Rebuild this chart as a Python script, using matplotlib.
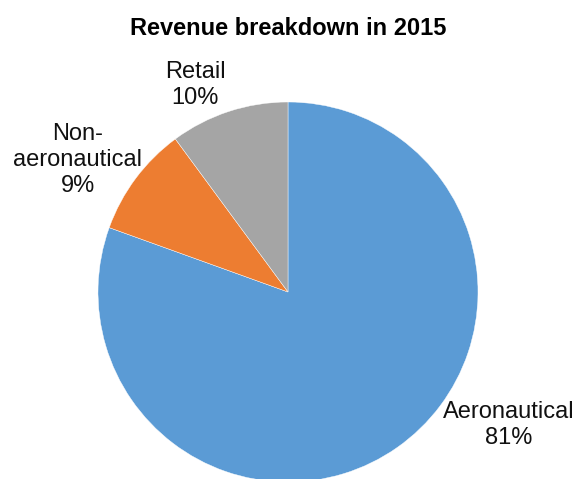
import matplotlib.pyplot as plt

labels = ["Aeronautical", "Non-\naeronautical", "Retail"]
shares = [80.5, 9.4, 10.1]
pct_labels = ["81%", "9%", "10%"]
colors = ["#5B9BD5", "#ED7D31", "#A5A5A5"]

plt.rcParams['font.family'] = ['Liberation Sans', 'DejaVu Sans']

fig = plt.figure(figsize=(5.77, 4.79), dpi=100)
ax = fig.add_axes([0, 0, 1, 1])

# pie centre / radius in pixel units of the canvas
ax.pie(shares, colors=colors, startangle=90, counterclock=False,
       center=(288, 187), radius=190, frame=True,
       wedgeprops=dict(linewidth=0.3, edgecolor='white'))
ax.set_xlim(0, 577)
ax.set_ylim(0, 479)
ax.set_aspect('equal')
ax.axis('off')

# data labels, placed where the original puts them
label_pos = [(509, 54), (78, 319), (195, 394)]
for lab, pct, (x, y) in zip(labels, pct_labels, label_pos):
    ax.text(x, y, f"{lab}\n{pct}", ha='center', va='center',
            fontsize=17, color='#111111', linespacing=1.22)

fig.text(0.5, 0.9415, "Revenue breakdown in 2015", ha='center', va='center',
         fontsize=17, fontweight='bold')

plt.savefig("out.png", dpi=100)
